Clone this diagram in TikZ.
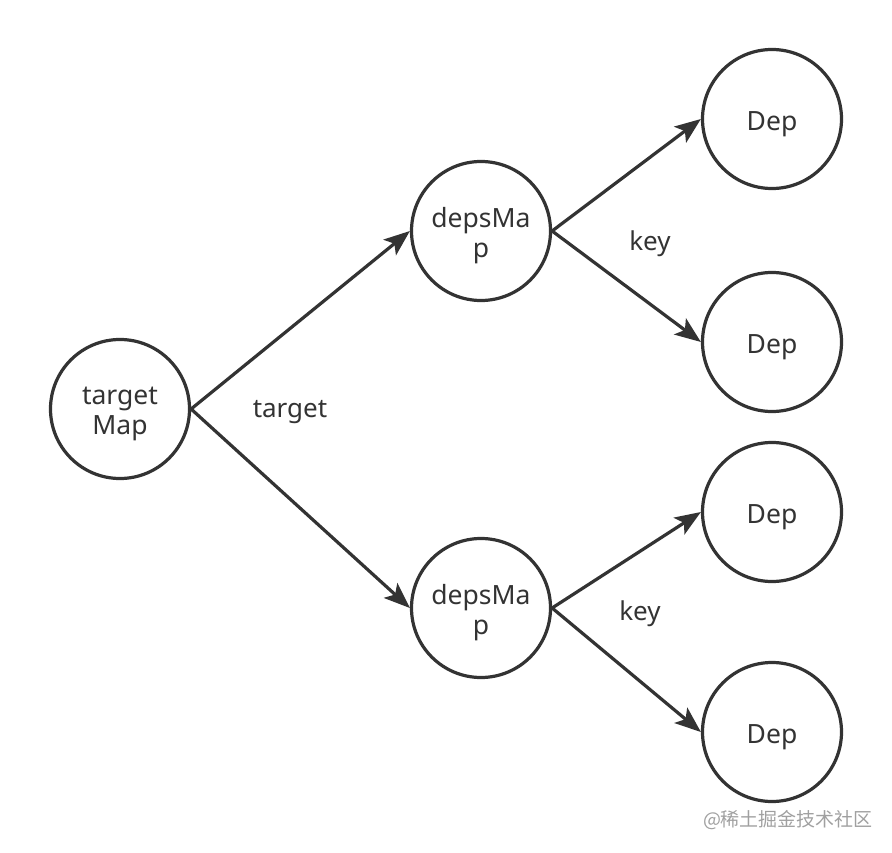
\documentclass[tikz,border=0pt]{standalone}
\usepackage{fontspec}
\setmainfont{Noto Sans}
\newfontfamily\cjk{Noto Sans CJK SC}
\usetikzlibrary{arrows.meta}
\definecolor{ink}{HTML}{333333}
\definecolor{wm}{HTML}{A0A0A0}
\begin{document}
\begin{tikzpicture}[x=1pt,y=-1pt,
  nd/.style={circle,draw=ink,line width=3.2pt,minimum size=139pt,inner sep=0pt},
  tx/.style={align=center,font=\fontsize{26.5}{30}\selectfont,text=ink},
  arr/.style={draw=ink,line width=3.2pt,-{Stealth[length=26pt,width=20pt,inset=6pt]}},
  lbl/.style={font=\fontsize{26}{30}\selectfont,text=ink}]
\useasboundingbox (0,0) rectangle (892,853);
\node[nd] (tm) at (120,409) {};
\node[nd] (d1) at (481,231) {};
\node[nd] (d2) at (481,608) {};
\node[nd] (e1) at (772,119) {};
\node[nd] (e2) at (772,342) {};
\node[nd] (e3) at (772,512) {};
\node[nd] (e4) at (772,732) {};
\node[tx] (ttm) at ([yshift=-5pt]tm.center) {target\\Map};
\node[tx] (td1) at ([yshift=-5pt]d1.center) {depsMa\\p};
\node[tx] (td2) at ([yshift=-5pt]d2.center) {depsMa\\p};
\node[tx] (te1) at ([yshift=-5pt]e1.center) {Dep};
\node[tx] (te2) at ([yshift=-5pt]e2.center) {Dep};
\node[tx] (te3) at ([yshift=-5pt]e3.center) {Dep};
\node[tx] (te4) at ([yshift=-5pt]e4.center) {Dep};
\draw[arr] (tm.east) -- (d1.west);
\draw[arr] (tm.east) -- (d2.west);
\draw[arr] (d1.east) -- (e1.west);
\draw[arr] (d1.east) -- (e2.west);
\draw[arr] (d2.east) -- (e3.west);
\draw[arr] (d2.east) -- (e4.west);
\node[lbl] (l1) at (290,412) {target};
\node[lbl] (l2) at (650,244) {key};
\node[lbl] (l3) at (640,614) {key};
\node[font=\cjk\fontsize{19}{22}\selectfont,text=wm] (w) at (788,820) {@稀土掘金技术社区};
\end{tikzpicture}
\end{document}
